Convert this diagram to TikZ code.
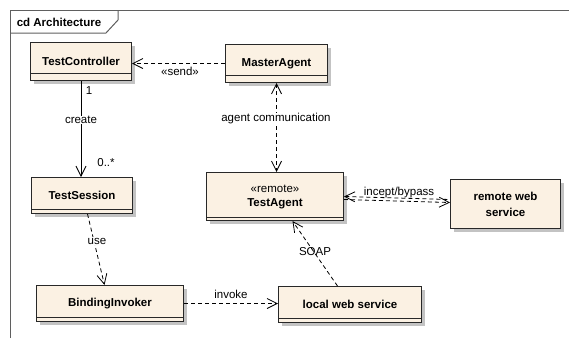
\documentclass[tikz,border=0pt]{standalone}
\usepackage{fontspec}
\setmainfont{Liberation Sans}
\usetikzlibrary{arrows.meta,shadows}
\definecolor{boxfill}{RGB}{251,241,227}
\definecolor{boxline}{RGB}{40,40,40}
\definecolor{framecol}{RGB}{95,95,95}
\definecolor{shadowcol}{RGB}{195,195,195}
\begin{document}
\begin{tikzpicture}[x=1pt,y=-1pt,
  cls/.style={draw=boxline, line width=1pt, fill=boxfill, anchor=north west, inner sep=0pt,
    font=\fontsize{11.5}{14}\selectfont\bfseries, align=center,
    drop shadow={shadow xshift=3pt, shadow yshift=-3pt, fill=shadowcol, opacity=1}},
  lbl/.style={font=\fontsize{11.5}{13}\selectfont, inner sep=1pt},
  barb/.tip={Straight Barb[length=10pt,width=10pt,line width=0.8pt]},
  dep/.style={draw=black, line width=0.8pt, dash pattern=on 4pt off 3pt, -barb},
  assoc/.style={draw=black, line width=0.8pt, -barb},
  comp/.style={draw=boxline, line width=0.9pt}
]
\useasboundingbox (0,0) rectangle (569,338);
% frame
\draw[framecol, line width=1pt] (10,338) -- (10,10) -- (569,10);
\draw[framecol, line width=1pt] (10,33) -- (106,33) -- (118,20) -- (118,10);
\node[font=\fontsize{11.5}{13}\selectfont\bfseries, inner sep=0pt] (title) at (59,22) {cd Architecture};

% classes
\node[cls, minimum width=101pt, minimum height=38pt] (tc) at (30,42) {TestController};
\draw[comp] ([yshift=8pt]tc.south west) -- ([yshift=8pt]tc.south east);
\node[cls, minimum width=102pt, minimum height=38pt] (ma) at (225,44) {MasterAgent};
\draw[comp] ([yshift=8pt]ma.south west) -- ([yshift=8pt]ma.south east);
\node[cls, minimum width=101pt, minimum height=36pt] (ts) at (31,177) {TestSession};
\draw[comp] ([yshift=5pt]ts.south west) -- ([yshift=5pt]ts.south east);
\node[cls, minimum width=137pt, minimum height=48pt] (ta) at (206,172) {\fontseries{m}\selectfont «remote»\\TestAgent};
\draw[comp] ([yshift=4pt]ta.south west) -- ([yshift=4pt]ta.south east);
\node[cls, minimum width=110pt, minimum height=49pt, font=\fontsize{11.5}{16}\selectfont\bfseries] (rws) at (450,179) {remote web\\service};
\node[cls, minimum width=147pt, minimum height=36pt] (bi) at (36,285) {BindingInvoker};
\draw[comp] ([yshift=5pt]bi.south west) -- ([yshift=5pt]bi.south east);
\node[cls, minimum width=143pt, minimum height=36pt] (lws) at (278,286) {local web service};
\draw[comp] ([yshift=5pt]lws.south west) -- ([yshift=5pt]lws.south east);

% connectors
\draw[dep] (ma.west) -- (ma.west -| tc.east);
\node[lbl] (lsend) at (180,71) {«send»};

\draw[assoc] (tc.south) -- (tc.south |- ts.north);
\node[lbl] (lone) at (89,91) {1};
\node[lbl, fill=white, inner sep=0.5pt] (lcreate) at (81,120) {create};
\node[lbl] (lmany) at (106,163) {0..*};

\draw[dep, barb-barb] (ma.south) -- (ma.south |- ta.north);
\node[lbl, fill=white, inner sep=0.5pt] (lagent) at (276,119) {agent communication};

\draw[dep, barb-] (ta.east) -- ([yshift=4.5pt]rws.west);
\draw[dep] ([yshift=-3pt]ta.east) -- ([yshift=1.5pt]rws.west);
\node[lbl] (lincept) at (399,193) {incept/bypass};

\draw[dep] ([xshift=5.5pt]ts.south) -- ([xshift=-5.5pt]bi.north);
\node[lbl, fill=white, inner sep=0.5pt] (luse) at (97,241) {use};

\draw[dep] (bi.east) -- (bi.east -| lws.west);
\node[lbl] (linvoke) at (231,294) {invoke};

\draw[dep] ([xshift=-12.5pt]lws.north) -- ([xshift=17.5pt]ta.south);
\node[lbl] (lsoap) at (315,252) {SOAP};
\end{tikzpicture}
\end{document}
